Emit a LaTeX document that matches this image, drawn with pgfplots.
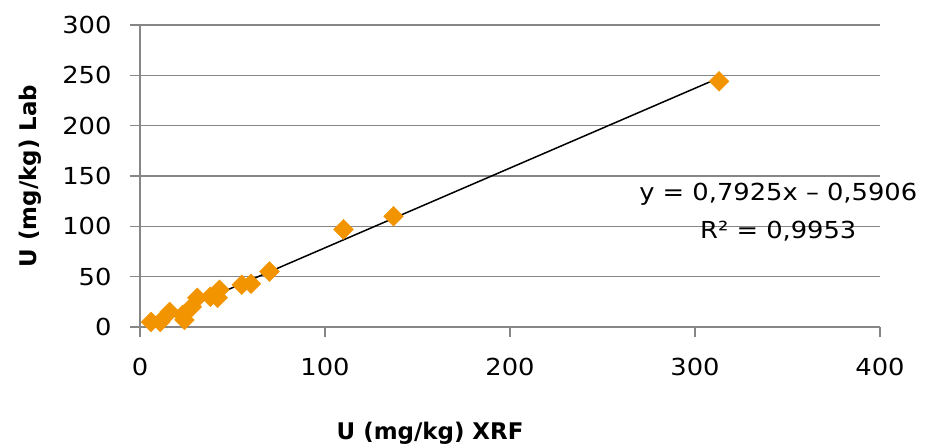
\documentclass[border=0pt]{standalone}
\usepackage{pgfplots}
\pgfplotsset{compat=1.18}
\usepackage{fontspec}
\setmainfont{DejaVu Sans}
\newfontfamily\widefont[FakeStretch=1.1]{DejaVu Sans}
\definecolor{gridgray}{RGB}{134,134,134}
\definecolor{markorange}{RGB}{242,148,0}
\begin{document}
\begin{tikzpicture}
\begin{axis}[
  scale only axis,
  width=740bp, height=302bp,
  xmin=0, xmax=400, ymin=0, ymax=300,
  xtick={0,100,200,300,400},
  ytick={0,50,100,150,200,250,300},
  axis x line*=bottom, axis y line*=left,
  axis line style={gridgray, line width=1.5bp, -},
  tick align=outside,
  major tick length=10bp,
  tick style={gridgray, line width=1.5bp},
  ymajorgrids=true,
  grid style={gridgray, line width=1.5bp},
  /pgf/number format/assume math mode=true,
  ticklabel style={font=\widefont\fontsize{23.5}{28}\selectfont},
  xticklabel style={yshift=-18bp},
  yticklabel style={xshift=-15bp},
  xlabel={\textbf{U (mg/kg) XRF}},
  ylabel={\textbf{U (mg/kg) Lab}},
  label style={font=\fontsize{23}{27}\selectfont},
  xlabel style={at={(axis description cs:0.392,0)}, anchor=center, yshift=-106bp},
  ylabel style={at={(axis description cs:0,0.5)}, anchor=center, yshift=110bp},
  clip=false,
]
\addplot[only marks, mark=square*, mark size=7bp,
  mark options={rotate=45, fill=markorange, draw=markorange}]
coordinates {
  (6,5) (11,5) (16,15) (23,12) (24,7) (28,20) (31,29) (38,30)
  (42,29) (43,37) (55,42) (60,43) (70,55) (110,97) (137,110) (313,244)
};
% trendline y = 0.7925x - 0.5906
\addplot[black, line width=1.5bp] coordinates {(6,4.16) (313,247.46)};
\node[align=center, font=\widefont\fontsize{23.5}{39}\selectfont]
  at (axis cs:345,114) {y = 0,7925x – 0,5906\\R² = 0,9953};
\end{axis}
\pgfresetboundingbox
\path[use as bounding box] (-140bp,-118bp) rectangle (785bp,327bp);
\end{tikzpicture}
\end{document}
